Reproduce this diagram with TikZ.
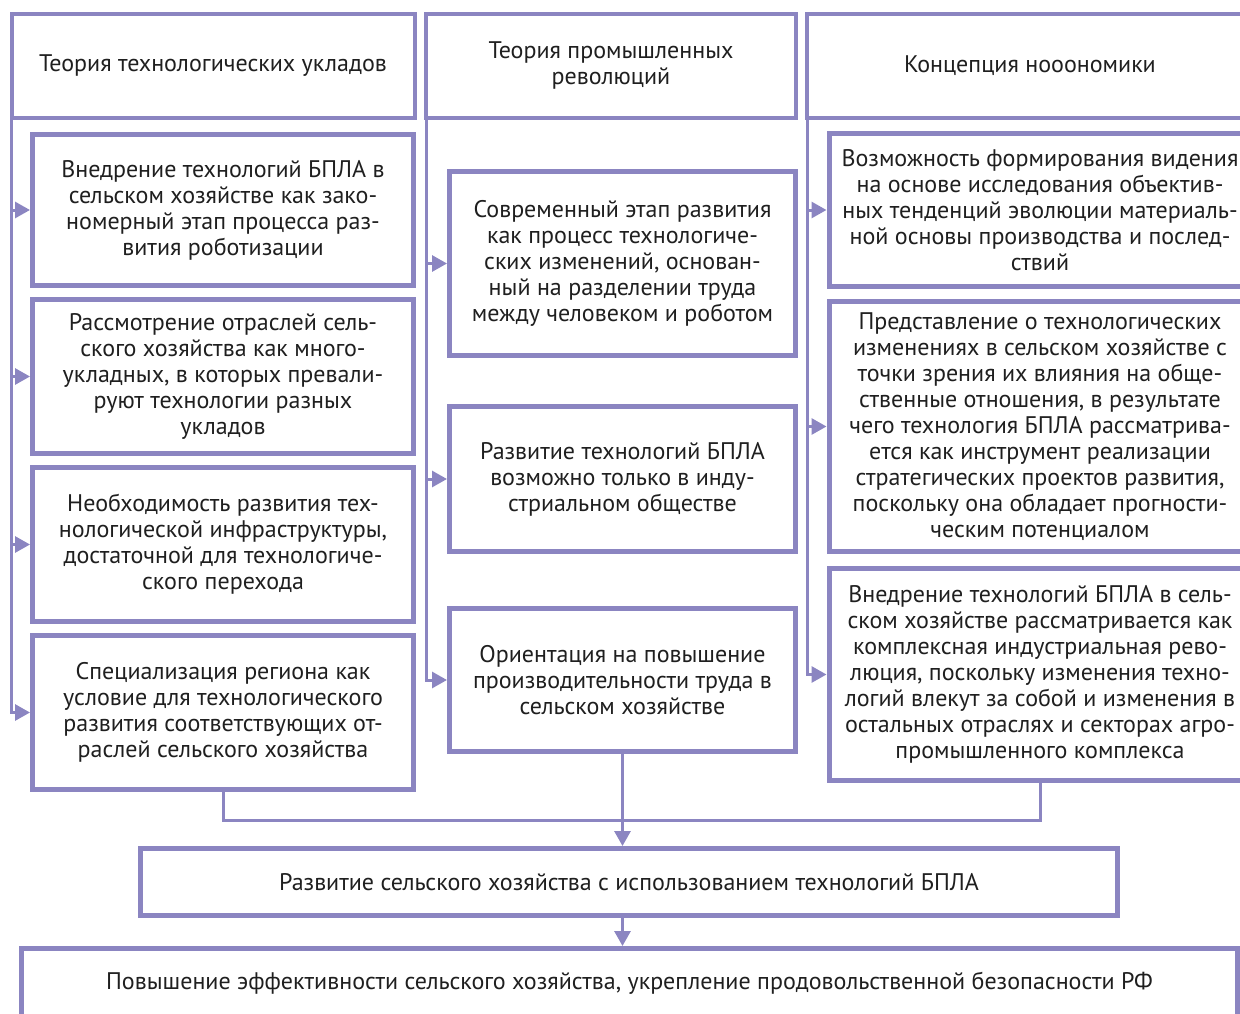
\documentclass[tikz,border=0pt]{standalone}
\usepackage{fontspec}
\setmainfont{PT Sans}
\usetikzlibrary{arrows.meta}
\definecolor{lilac}{RGB}{139,133,193}

\begin{document}
\begin{tikzpicture}[x=1pt, y=-1pt, >={Triangle[length=15pt, width=16pt]},
	txt/.style={align=center, text=black!88, inner sep=0pt, font=\fontsize{24}{26}\selectfont},
	head/.style={txt, draw=lilac, line width=4pt, outer sep=0pt},
	card/.style={txt, draw=lilac, line width=5pt},
	link/.style={draw=lilac, line width=3pt}]
	\useasboundingbox (0, 0) rectangle (1240, 1014);

	% headers
	\node[head, minimum width=403, minimum height=104] (h1) at (213, 66)
		{Теория технологических укладов};
	\node[head, minimum width=370, minimum height=104] (h2) at (611, 66)
		{Теория промышленных\\революций};
	\node[head, minimum width=446, minimum height=104] (h3) at (1030, 66)
		{Концепция нооономики};

	% left column
	\node[card, minimum width=381, minimum height=151] (a1) at (223, 210)
		{Внедрение технологий БПЛА в\\сельском хозяйстве как зако-\\номерный этап процесса раз-\\вития роботизации};
	\node[card, minimum width=381, minimum height=154] (a2) at (223, 376.5)
		{Рассмотрение отраслей сель-\\ского хозяйства как много-\\укладных, в которых превали-\\руют технологии разных\\укладов};
	\node[card, minimum width=381, minimum height=154] (a3) at (223, 544.5)
		{Необходимость развития тех-\\нологической инфраструктуры,\\достаточной для технологиче-\\ского перехода};
	\node[card, minimum width=381, minimum height=154] (a4) at (223, 712.5)
		{Специализация региона как\\условие для технологического\\развития соответствующих от-\\раслей сельского хозяйства};

	% middle column
	\node[card, minimum width=346, minimum height=184] (m1) at (622.5, 263.5)
		{Современный этап развития\\как процесс технологиче-\\ских изменений, основан-\\ный на разделении труда\\между человеком и роботом};
	\node[card, minimum width=346, minimum height=145] (m2) at (622.5, 479)
		{Развитие технологий БПЛА\\возможно только в инду-\\стриальном обществе};
	\node[card, minimum width=346, minimum height=143] (m3) at (622.5, 680)
		{Ориентация на повышение\\производительности труда в\\сельском хозяйстве};

	% right column
	\node[card, minimum width=422, minimum height=153] (r1) at (1040, 210)
		{Возможность формирования видения\\на основе исследования объектив-\\ных тенденций эволюции материаль-\\ной основы производства и послед-\\ствий};
	\node[card, minimum width=422, minimum height=250] (r2) at (1040, 426.5)
		{Представление о технологических\\изменениях в сельском хозяйстве с\\точки зрения их влияния на обще-\\ственные отношения, в результате\\чего технология БПЛА рассматрива-\\ется как инструмент реализации\\стратегических проектов развития,\\поскольку она обладает прогности-\\ческим потенциалом};
	\node[card, minimum width=422, minimum height=212] (r3) at (1040, 674.5)
		{Внедрение технологий БПЛА в сель-\\ском хозяйстве рассматривается как\\комплексная индустриальная рево-\\люция, поскольку изменения техно-\\логий влекут за собой и изменения в\\остальных отраслях и секторах агро-\\промышленного комплекса};

	% bottom
	\node[card, minimum width=977, minimum height=67] (main) at (629, 882)
		{Развитие сельского хозяйства с использованием технологий БПЛА};
	\node[card, minimum width=1216, minimum height=69] (final) at (629.5, 983)
		{Повышение эффективности сельского хозяйства, укрепление продовольственной безопасности РФ};

	% trunks
	\draw[link, ->] (h1.south west) |- (a4.west);
	\foreach \n in {a1, a2, a3}
		\draw[link, ->] (h1.south west |- \n.west) -- (\n.west);

	\draw[link, ->] (h2.south west) |- (m3.west);
	\foreach \n in {m1, m2}
		\draw[link, ->] (h2.south west |- \n.west) -- (\n.west);

	\draw[link, ->] (h3.south west) |- (r3.west);
	\foreach \n in {r1, r2}
		\draw[link, ->] (h3.south west |- \n.west) -- (\n.west);

	% joining
	\draw[link] (a4.south) -- ++(0, 28) -| (r3.south);
	\draw[link, ->] (m3.south) -- (m3.south |- main.north);
	\draw[link, ->] (m3.south |- main.south) -- (m3.south |- final.north);

\end{tikzpicture}
\end{document}
